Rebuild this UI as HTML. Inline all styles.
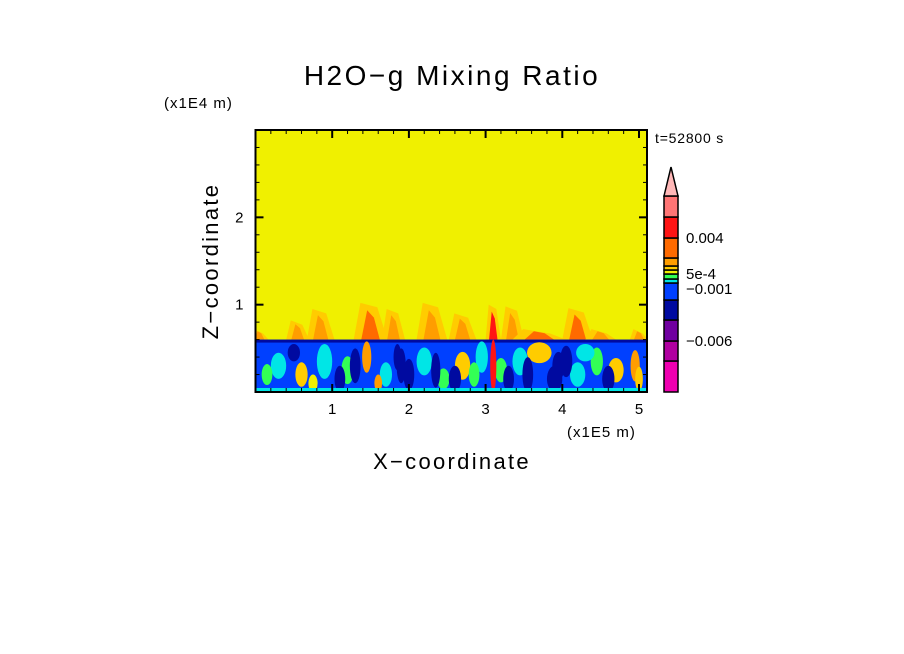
<!DOCTYPE html>
<html><head><meta charset="utf-8">
<style>
html,body{margin:0;padding:0;background:#fff;}
svg{display:block;font-family:"Liberation Sans",sans-serif;}
</style></head>
<body>
<svg id="chart" width="904" height="654" viewBox="0 0 904 654" xmlns="http://www.w3.org/2000/svg">
<rect width="904" height="654" fill="#fff"/>
<text x="452" y="85" font-size="28" letter-spacing="2.5" text-anchor="middle">H2O−g Mixing Ratio</text>
<text x="164" y="108" font-size="15" letter-spacing="1">(x1E4 m)</text>
<text x="567" y="437" font-size="15" letter-spacing="1">(x1E5 m)</text>
<text x="452" y="469" font-size="22" letter-spacing="2.3" text-anchor="middle">X−coordinate</text>
<text x="0" y="0" font-size="22" letter-spacing="2.3" text-anchor="middle" transform="translate(218,261) rotate(-90)">Z−coordinate</text>
<text x="655" y="143" font-size="14" letter-spacing="0.8">t=52800 s</text>
<g id="field"></g>
<g id="axes"></g>
<g id="cbar"></g>
</svg>
<script>
// colour levels (low to high)
const levelColors = ["#f000b0","#b000a0","#7000a0","#000aa0","#0040ff","#00e6e6","#33ff55","#f0f000","#ffcc00","#ff9d00","#ff6a00","#ff1414","#ff7575"];
const cbarLabels = ["−0.006","−0.001","5e-4","0.004"];
const cbarLabelLevels = [2, 4.65, 7, 11];
const xTicks = [1,2,3,4,5];
const zTicks = [1,2];
// plumes above boundary layer: x (1e5 m), top z (1e4 m), half width (1e5 m), level
const plumeX =   [0.05,0.55,0.85,1.5,1.8,2.3,2.7,3.1,3.35,3.7,4.2,4.5,5.0];
const plumeTop = [0.72,0.82,0.95,1.02,0.95,1.02,0.9,1.0,0.98,0.72,0.96,0.72,0.72];
const plumeW =   [0.12,0.15,0.18,0.22,0.15,0.2,0.18,0.1,0.15,0.35,0.2,0.2,0.12];
const plumeLvl = [9,9,9,10,9,9,9,11,9,10,10,9,9];
// blobs inside boundary layer: x, z, rx, rz, level
const blobX =  [0.3,0.6,0.9,1.2,1.45,1.7,1.9,2.2,2.45,2.7,2.95,3.2,3.45,3.7,3.95,4.2,4.45,4.7,4.95,0.5,1.1,2.0,2.6,3.3,3.9,4.6,1.6,2.85,4.3,0.15,3.1,5.0,1.3,2.35,3.55,4.05,0.75,1.85];
const blobZ =  [0.3,0.2,0.35,0.25,0.4,0.2,0.3,0.35,0.15,0.3,0.4,0.25,0.35,0.45,0.3,0.2,0.35,0.25,0.3,0.45,0.15,0.2,0.15,0.15,0.15,0.15,0.1,0.2,0.45,0.2,0.3,0.15,0.3,0.25,0.2,0.35,0.1,0.4];
const blobRX = [0.1,0.08,0.1,0.08,0.06,0.08,0.06,0.1,0.08,0.1,0.08,0.08,0.1,0.16,0.08,0.1,0.08,0.1,0.06,0.08,0.07,0.07,0.08,0.07,0.1,0.08,0.05,0.07,0.12,0.07,0.04,0.05,0.07,0.06,0.07,0.08,0.06,0.05];
const blobRZ = [0.15,0.14,0.2,0.16,0.18,0.14,0.2,0.16,0.12,0.16,0.18,0.14,0.16,0.12,0.16,0.14,0.16,0.14,0.18,0.1,0.15,0.18,0.15,0.15,0.15,0.15,0.1,0.14,0.1,0.12,0.3,0.14,0.2,0.2,0.2,0.18,0.1,0.15];
const blobLvl =[5,8,5,6,9,5,3,5,6,8,5,6,5,8,3,5,6,8,9,3,3,3,3,3,3,3,9,6,5,6,11,8,3,3,3,3,7,3];

const X0=255.5, X1=647, Z0=392, Z1=130;
const XMAX=(X1-X0)/76.7, ZMAX=3.0;
const sx = v => X0 + v*76.7;
const sz = v => Z0 - v*(Z0-Z1)/ZMAX;
const NS="http://www.w3.org/2000/svg";
function mk(tag, attrs, parent){const e=document.createElementNS(NS,tag);for(const k in attrs)e.setAttribute(k,attrs[k]);parent.appendChild(e);return e;}
const field=document.getElementById('field');
const clip=mk('clipPath',{id:'pc'},field);
mk('rect',{x:X0,y:Z1,width:X1-X0,height:Z0-Z1},clip);
const fg=mk('g',{'clip-path':'url(#pc)'},field);
let r=mk('rect',{x:X0,y:Z1,width:X1-X0,height:Z0-Z1,fill:levelColors[7]},fg);


const BL=0.6;
plumeX.forEach((x,i)=>{
  const w=plumeW[i], t=plumeTop[i];
  let p=mk('polygon',{points:`${sx(x-w)},${sz(BL)} ${sx(x-w*0.6)},${sz(t)} ${sx(x+w*0.4)},${sz(t-0.05)} ${sx(x+w)},${sz(BL)}`,fill:levelColors[8]},fg);
  
  
  let q=mk('polygon',{points:`${sx(x-w*0.55)},${sz(BL)} ${sx(x-w*0.2)},${sz(BL+(t-BL)*0.8)} ${sx(x+w*0.2)},${sz(BL+(t-BL)*0.6)} ${sx(x+w*0.55)},${sz(BL)}`,fill:levelColors[plumeLvl[i]]},fg);
  
  
});
let bl=mk('rect',{x:X0,y:sz(BL),width:X1-X0,height:Z0-sz(BL),fill:levelColors[4]},fg);


mk('rect',{x:X0,y:sz(BL),width:X1-X0,height:3,fill:levelColors[3]},fg);
blobX.forEach((x,i)=>{
  let e=mk('ellipse',{cx:sx(x),cy:sz(blobZ[i]),rx:blobRX[i]*76.7,ry:blobRZ[i]*87.3,fill:levelColors[blobLvl[i]]},fg);
  
  
});
mk('rect',{x:X0,y:Z0-4,width:X1-X0,height:4,fill:levelColors[5]},fg);
// axes
const ax=document.getElementById('axes');
mk('rect',{x:X0,y:Z1,width:X1-X0,height:Z0-Z1,fill:'none',stroke:'#000','stroke-width':2},ax);
for(let v=0.2; v<XMAX; v+=0.2){
  const major=Math.abs(v-Math.round(v))<1e-6, L=major?8:4;
  mk('line',{x1:sx(v),x2:sx(v),y1:Z0,y2:Z0-L,stroke:'#000','stroke-width':major?2:1},ax);
  mk('line',{x1:sx(v),x2:sx(v),y1:Z1,y2:Z1+L,stroke:'#000','stroke-width':major?2:1},ax);
}
for(let v=0.2; v<ZMAX; v+=0.2){
  const major=Math.abs(v-Math.round(v))<1e-6, L=major?8:4;
  mk('line',{x1:X0,x2:X0+L,y1:sz(v),y2:sz(v),stroke:'#000','stroke-width':major?2:1},ax);
  mk('line',{x1:X1,x2:X1-L,y1:sz(v),y2:sz(v),stroke:'#000','stroke-width':major?2:1},ax);
}
xTicks.forEach(v=>{
  let t=mk('text',{x:sx(v),y:Z0+22,'font-size':15,'text-anchor':'middle'},ax);t.textContent=v;
  
  
});
zTicks.forEach(v=>{
  let t=mk('text',{x:X0-12,y:sz(v)+5,'font-size':15,'text-anchor':'end'},ax);t.textContent=v;
  
  
});
// colorbar
const cb=document.getElementById('cbar');
const cbEdges=[392,361,341,320,300,283,279,274,270,266,258,238,217,196];
const CX=664, CW=14;
levelColors.forEach((c,i)=>{
  let s=mk('rect',{x:CX,y:cbEdges[i+1],width:CW,height:cbEdges[i]-cbEdges[i+1],fill:c,stroke:'#000','stroke-width':1.5},cb);
  
  
});
let tri=mk('polygon',{points:`${CX},196 ${CX+CW/2},167 ${CX+CW},196`,fill:'#ffb8b8',stroke:'#000','stroke-width':1.5},cb);


const lvY = l => { const i=Math.floor(l), f=l-i; return cbEdges[i]+(cbEdges[i+1]-cbEdges[i])*f; };
cbarLabels.forEach((s,i)=>{
  let t=mk('text',{x:686,y:lvY(cbarLabelLevels[i])+5,'font-size':15},cb);t.textContent=s;
  
  
});
</script>
</body></html>
